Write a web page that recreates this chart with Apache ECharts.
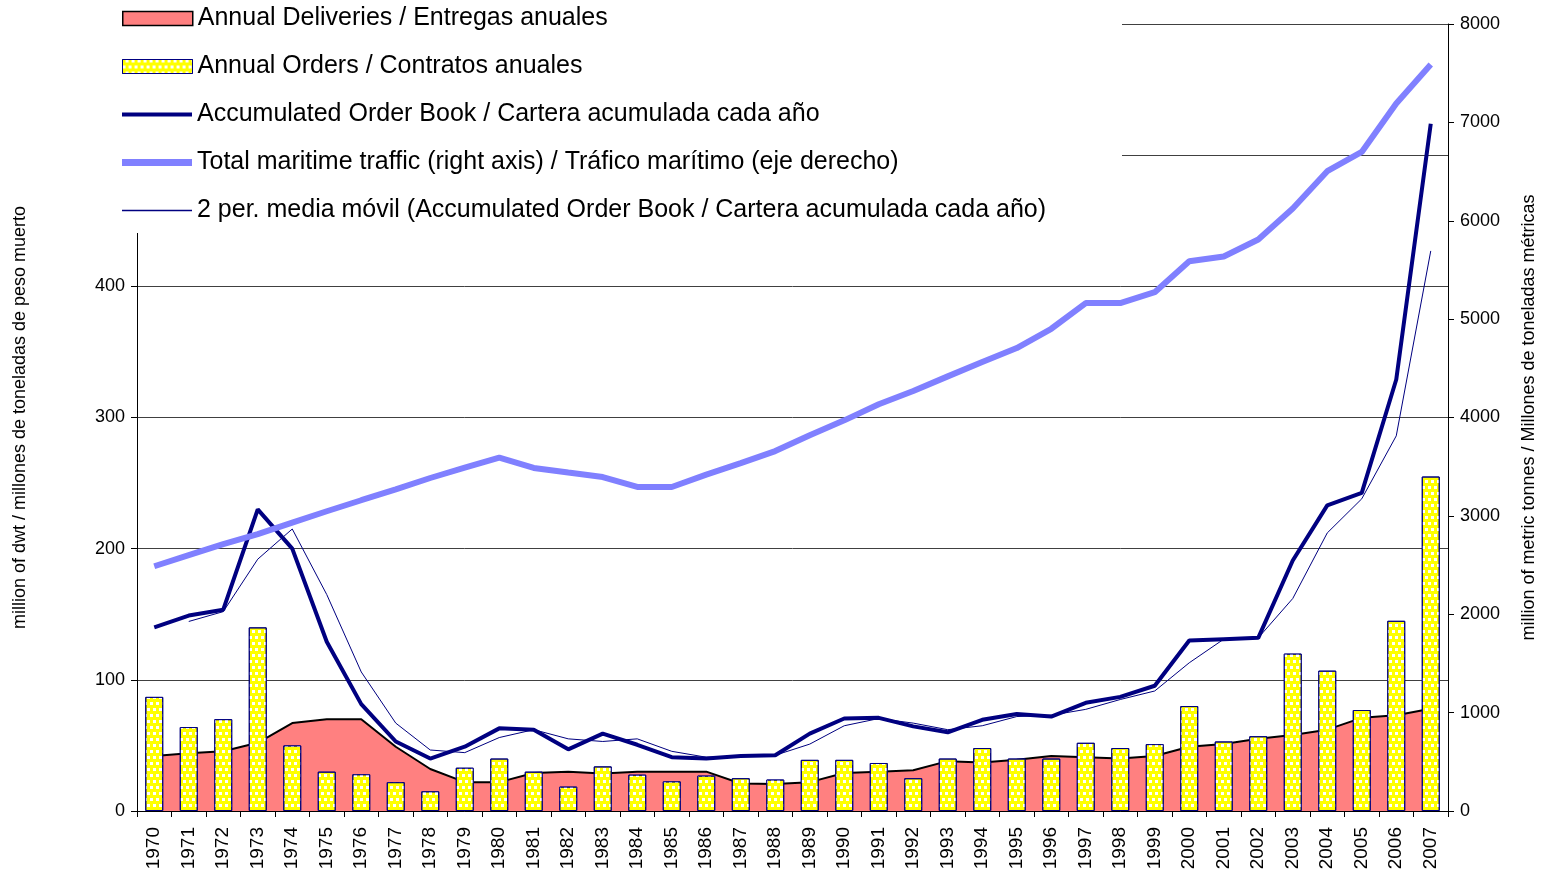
<!DOCTYPE html>
<html>
<head>
<meta charset="utf-8">
<script src="https://cdn.jsdelivr.net/npm/echarts@6/dist/echarts.min.js"></script>
<style>
html,body{margin:0;padding:0;background:#fff;}
#chart{width:1548px;height:875px;}
</style>
</head>
<body>
<div id="chart"></div>
<script>
const years = ['1970','1971','1972','1973','1974','1975','1976','1977','1978','1979','1980','1981','1982','1983','1984','1985','1986','1987','1988','1989','1990','1991','1992','1993','1994','1995','1996','1997','1998','1999','2000','2001','2002','2003','2004','2005','2006','2007'];

const deliveries = [42,44,45.5,52,67,70,70,49,32,22,22,29,30,28.5,30,30,30,21,20.5,22,29,30,31,38,37,39,42,41,40,42,49,51,55,58,62,71,73,78];

const orders = [87,64,70,140,50,30,28,22,15,33,40,30,18.6,34,27.7,22.6,27,25,24,39,39,36.6,25,40,48,40,40,52,48,51,80,53,57,120,107,77,145,255];

const orderBook = [140,149,153.5,230,200,129,81.5,53,40,49,63,62,47,59,50.5,41,40,42,42.5,59,70.5,71,64.5,60,69.5,74,72,82.5,87,95.5,130,131,132,191,233,242.5,329,524];

const traffic = [2488,2600,2712,2815,2932,3047,3159,3270,3385,3490,3592,3487,3440,3395,3294,3294,3420,3537,3659,3820,3971,4134,4269,4418,4564,4706,4902,5163,5163,5274,5589,5637,5810,6125,6504,6700,7192,7588];

const movingAvg = [null,144.5,152,192,215,165,106,67,46.5,44.5,56,62,55,53,55,45.5,41,41.5,42.5,51,65,70.5,67,62,65,72,73,77.5,85,91.5,113,131,132,162,212,238,286,427];

const leftTicks = [0,100,200,300,400,500,600];
const rightTicks = [0,1000,2000,3000,4000,5000,6000,7000,8000];

const names = [
  'Annual Deliveries / Entregas anuales',
  'Annual Orders / Contratos anuales',
  'Accumulated Order Book / Cartera acumulada cada año',
  'Total maritime traffic (right axis) / Tráfico marítimo (eje derecho)',
  '2 per. media móvil (Accumulated Order Book / Cartera acumulada cada año)'
];
const leftAxisName = 'million of dwt / millones de toneladas de peso muerto';
const rightAxisName = 'million of metric tonnes / Millones de toneladas métricas';

const FONT = "'Liberation Sans', Arial, sans-serif";
const decal = {
  symbol: 'rect',
  symbolSize: 1,
  color: '#ffffff',
  dashArrayX: [[3,3],[0,3,3,0]],
  dashArrayY: [3,3],
  rotation: 0
};

const legendCenters = [17, 65, 113, 161, 209];
const legendIconH = [14, 14, 4, 7, 1.5];
const legendStyles = [
  {color:'#FF8080', borderColor:'#000', borderWidth:1.5},
  {color:'#FFFF00', borderColor:'#000080', borderWidth:1, decal: decal},
  {color:'#000080', borderWidth:0},
  {color:'#8080FF', borderWidth:0},
  {color:'#000080', borderWidth:0}
];
const legends = names.map((n, i) => ({
  data: [{name: n, icon: 'rect', itemStyle: legendStyles[i]}],
  orient: 'vertical',
  left: 122,
  top: legendCenters[i] - 11,
  padding: 0,
  itemWidth: 70,
  itemHeight: legendIconH[i],
  itemGap: 0,
  z: 20,
  selectedMode: false,
  textStyle: {fontFamily: FONT, fontSize: 25, color: '#000'}
}));

const chart = echarts.init(document.getElementById('chart'), null, {renderer: 'canvas'});
chart.setOption({
  animation: false,
  backgroundColor: '#fff',
  textStyle: {fontFamily: FONT},
  grid: {left: 137, right: 100, top: 24, bottom: 64, containLabel: false},
  legend: legends,
  graphic: [{
    type: 'rect', left: 60, top: 0, z: 10,
    shape: {width: 1062, height: 233},
    style: {fill: '#ffffff'}
  }],
  xAxis: {
    type: 'category',
    data: years,
    boundaryGap: true,
    axisLine: {lineStyle: {color: '#000', width: 1}},
    axisTick: {show: true, length: 6, lineStyle: {color: '#000'}},
    axisLabel: {rotate: 90, interval: 0, fontSize: 19, color: '#000', margin: 16, fontFamily: FONT},
    splitLine: {show: false}
  },
  yAxis: [{
    type: 'value',
    min: leftTicks[0], max: leftTicks[leftTicks.length-1], interval: 100,
    name: leftAxisName,
    nameLocation: 'middle',
    nameGap: 108,
    nameTextStyle: {fontSize: 18, color: '#000', fontFamily: FONT},
    axisLine: {show: true, lineStyle: {color: '#000'}},
    axisTick: {show: true, length: 6, lineStyle: {color: '#000'}},
    axisLabel: {fontSize: 18, color: '#000', margin: 12, fontFamily: FONT,
      formatter: v => (v <= 400 ? String(v) : '')},
    splitLine: {show: true, lineStyle: {color: '#404040', width: 1}}
  }, {
    type: 'value',
    min: rightTicks[0], max: rightTicks[rightTicks.length-1], interval: 1000,
    position: 'right',
    name: rightAxisName,
    nameLocation: 'middle',
    nameGap: 72,
    nameTextStyle: {fontSize: 18, color: '#000', fontFamily: FONT},
    axisLine: {show: true, lineStyle: {color: '#000'}},
    axisTick: {show: true, length: 6, lineStyle: {color: '#000'}},
    axisLabel: {fontSize: 18, color: '#000', margin: 12, fontFamily: FONT,
      formatter: v => String(v)},
    splitLine: {show: false}
  }],
  series: [{
    name: names[0], type: 'line', data: deliveries, symbol: 'none', z: 1,
    lineStyle: {color: '#000', width: 2},
    itemStyle: {color: '#FF8080', borderColor: '#000'},
    areaStyle: {color: '#FF8080', opacity: 1}
  }, {
    name: names[1], type: 'bar', data: orders, barWidth: '52%', z: 2,
    itemStyle: {color: '#FFFF00', borderColor: '#000080', borderWidth: 1, decal: decal}
  }, {
    name: names[2], type: 'line', data: orderBook, symbol: 'none', z: 3,
    lineStyle: {color: '#000080', width: 4},
    itemStyle: {color: '#000080'}
  }, {
    name: names[3], type: 'line', yAxisIndex: 1, data: traffic, symbol: 'none', z: 4,
    lineStyle: {color: '#8080FF', width: 6},
    itemStyle: {color: '#8080FF'}
  }, {
    name: names[4], type: 'line', data: movingAvg, symbol: 'none', z: 5,
    lineStyle: {color: '#000080', width: 1},
    itemStyle: {color: '#000080'}
  }]
});
</script>
</body>
</html>
